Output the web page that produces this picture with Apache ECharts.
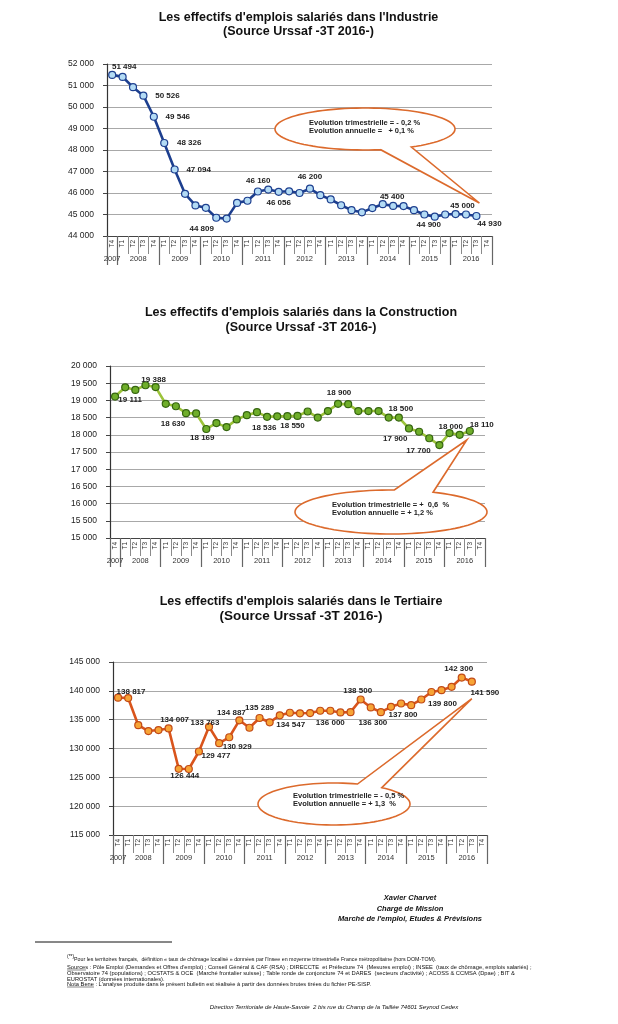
<!DOCTYPE html>
<html><head><meta charset="utf-8">
<script src="https://cdn.jsdelivr.net/npm/echarts@6/dist/echarts.min.js"></script>
<style>html,body{margin:0;padding:0;background:#fff}#c{width:618px;height:1024px}</style>
</head><body><div id="c"></div>
<script>
// ---------------- DATA ----------------
const CATEGORIES = ['2007-T4',
  '2008-T1','2008-T2','2008-T3','2008-T4','2009-T1','2009-T2','2009-T3','2009-T4',
  '2010-T1','2010-T2','2010-T3','2010-T4','2011-T1','2011-T2','2011-T3','2011-T4',
  '2012-T1','2012-T2','2012-T3','2012-T4','2013-T1','2013-T2','2013-T3','2013-T4',
  '2014-T1','2014-T2','2014-T3','2014-T4','2015-T1','2015-T2','2015-T3','2015-T4',
  '2016-T1','2016-T2','2016-T3','2016-T4'];
const YEARS = ['2007','2008','2009','2010','2011','2012','2013','2014','2015','2016'];

const industrie = [51494,51400,50920,50526,49546,48326,47094,45960,45420,45310,44850,44809,
  45540,45640,46070,46160,46056,46080,46000,46200,45900,45700,45430,45200,45100,45300,45480,
  45400,45390,45200,45000,44900,45000,45020,45000,44930];
const construction = [19111,19380,19305,19440,19388,18900,18830,18630,18620,18169,18340,18224,
  18446,18571,18658,18523,18536,18540,18550,18678,18500,18690,18900,18890,18690,18690,18690,
  18500,18500,18185,18089,17900,17700,18050,18000,18110];
const tertiaire = [138817,138750,134040,133022,133195,133483,126480,126444,129477,133763,130929,131950,
  134887,133600,135289,134547,135750,136200,136100,136150,136550,136550,136250,136300,138500,137116,
  136300,137232,137800,137520,138500,139800,140115,140692,142300,141590];

const industrieLabels = {0:'51 494',3:'50 526',4:'49 546',5:'48 326',6:'47 094',11:'44 809',15:'46 160',
  16:'46 056',19:'46 200',27:'45 400',31:'44 900',33:'45 000',35:'44 930'};
const constructionLabels = {0:'19 111',4:'19 388',7:'18 630',9:'18 169',16:'18 536',18:'18 550',22:'18 900',
  28:'18 500',31:'17 900',32:'17 700',34:'18 000',35:'18 110'};
const tertiaireLabels = {0:'138 817',5:'134 007',7:'126 444',8:'129 477',9:'133 763',10:'130 929',12:'134 887',
  14:'135 289',15:'134 547',21:'136 000',24:'138 500',26:'136 300',28:'137 800',31:'139 800',34:'142 300',35:'141 590'};

const TITLES = [
  ["Les effectifs d'emplois salariés dans l'Industrie", "(Source Urssaf -3T 2016-)"],
  ["Les effectifs d'emplois salariés dans la Construction", "(Source Urssaf -3T 2016-)"],
  ["Les effectifs d'emplois salariés dans le Tertiaire", "(Source Urssaf -3T 2016-)"]
];
const CALLOUT_TEXTS = [
  ['Evolution trimestrielle = - 0,2 %', 'Evolution annuelle =   + 0,1 %'],
  ['Evolution trimestrielle = +  0,6  %', 'Evolution annuelle = + 1,2 %'],
  ['Evolution trimestrielle = - 0,5 %', 'Evolution annuelle = + 1,3  %']
];
const SIGNATURE = ['Xavier Charvet', 'Chargé de Mission', "Marché de l'emploi, Etudes & Prévisions"];
const FOOTNOTES = [
  "Pour les territoires français,  définition « taux de chômage localisé » données par l'Insee en moyenne trimestrielle France métropolitaine (hors DOM-TOM).",
  "Sources : Pôle Emploi (Demandes et Offres d'emploi) ; Conseil Général & CAF (RSA) ; DIRECCTE  et Préfecture 74  (Mesures emploi) ; INSEE  (taux de chômage, emplois salariés) ;",
  "Observatoire 74 (populations) ; OCSTATS & OCE  (Marché frontalier suisse) ; Table ronde de conjoncture 74 et DARES  (secteurs d'activité) ; ACOSS & CCMSA (Dpae) ; BIT &",
  "EUROSTAT (données internationales).",
  "Nota Bene : L'analyse produite dans le présent bulletin est réalisée à partir des données brutes tirées du fichier PE-SISP."
];
const ADDRESS = 'Direction Territoriale de Haute-Savoie  2 bis rue du Champ de la Taillée 74601 Seynod Cedex';

// ---------------- STYLE / LAYOUT ----------------
const FONT = '"Liberation Sans", Arial, sans-serif';
const GRIDS = [
  {left:107, top:64, width:385, height:172},
  {left:110, top:366, width:375, height:172},
  {left:113, top:662, width:374, height:173}
];
const YSCALES = [
  {min:44000, max:52000, interval:1000},
  {min:15000, max:20000, interval:500},
  {min:115000, max:145000, interval:5000}
];
const COLORS = [
  {line:'#1d3f8f', fill:'#b3dbf5', border:'#1d3f8f'},
  {line:'#9cc33a', fill:'#6fae2a', border:'#35650f'},
  {line:'#d9541c', fill:'#f7a435', border:'#c24a16'}
];
const LABEL_OFFSETS = [
  {0:[12,-8],3:[24,0],4:[24,0],5:[25,0],6:[24,0],11:[-25,10],15:[-10,-9],16:[0,11],19:[0,-12],27:[-1,-9],31:[-6,8],33:[7,-8],35:[13,8]},
  {0:[15,3],4:[-2,-7],7:[-13,11],9:[-4,9],16:[-13,11],18:[-5,10],22:[1,-11],28:[2,-9],31:[-34,1],32:[-21,6],34:[-9,-8],35:[12,-6]},
  {0:[13,-6],5:[6,-9],7:[-4,7],8:[17,4],9:[-4,-4],10:[18,4],12:[-8,-8],14:[0,-10],15:[21,3],21:[0,12],24:[-3,-9],26:[-8,11],28:[2,11],31:[11,12],34:[-3,-9],35:[13,11]}
];
const TITLE_POS = [{x:298.5, y:[18,32], f2:12.5}, {x:301, y:[313,328], f2:12.5}, {x:301, y:[602,616], f2:13.5}];
const CALLOUTS = [
  {cx:365, cy:129, rx:90, ry:21, gap:[59,80], tipOffset:[3,-13], tx:309, ty:[123,131]},
  {cx:391, cy:512, rx:96, ry:22, gap:[-88,-64], tipOffset:[-3,9], tx:332, ty:[505,513]},
  {cx:334, cy:804, rx:76, ry:21, gap:[-72,-51], tipOffset:[0,17], tx:293, ty:[796,804]}
];

function fmt(n){ return String(n).replace(/\B(?=(\d{3})+(?!\d))/g,' '); }
const YEAR_AT = {};
YEARS.forEach((y,k)=>{ YEAR_AT[k===0 ? 0.5 : 3+4*(k-1)] = y; });

const series = [industrie, construction, tertiaire];
const labels = [industrieLabels, constructionLabels, tertiaireLabels];

const option = {animation:false, backgroundColor:'#fff', grid:[], xAxis:[], yAxis:[], series:[]};
GRIDS.forEach((g,i)=>{
  option.grid.push(Object.assign({containLabel:false}, g));
  option.xAxis.push({type:'category', gridIndex:i, position:'bottom', data:CATEGORIES, boundaryGap:true,
    axisLine:{show:true, lineStyle:{color:'#444', width:1}},
    axisTick:{show:true, interval:0, length:18, lineStyle:{color:'#8a8a8a', width:1}},
    axisLabel:{interval:0, rotate:90, margin:4, fontSize:6.5, color:'#333', fontFamily:FONT, formatter:v=>v.split('-')[1]},
    splitLine:{show:false}});
  option.xAxis.push({type:'category', gridIndex:i, position:'bottom', data:CATEGORIES, boundaryGap:true,
    axisLine:{show:false},
    axisTick:{show:true, interval:(k)=> k===0 || (k-1)%4===0, length:29, lineStyle:{color:'#666', width:1.2}},
    axisLabel:{show:false}, splitLine:{show:false}});
  option.xAxis.push({type:'value', gridIndex:i, position:'bottom', min:0, max:37, interval:0.5,
    axisLine:{show:false}, axisTick:{show:false}, splitLine:{show:false},
    axisLabel:{margin:19, fontSize:7.5, color:'#333', fontFamily:FONT, formatter:v=>YEAR_AT[v]||''}});
  option.yAxis.push(Object.assign({type:'value', gridIndex:i,
    axisLine:{show:true, lineStyle:{color:'#333', width:1.2}},
    axisTick:{show:true, length:4, lineStyle:{color:'#444'}},
    splitLine:{show:true, lineStyle:{color:'#a8a8a8', width:1}},
    axisLabel:{margin:13, fontSize:8.5, color:'#222', fontFamily:FONT, formatter:fmt}}, YSCALES[i]));
  const lab = labels[i], off = LABEL_OFFSETS[i], c = COLORS[i];
  option.series.push({type:'line', xAxisIndex:3*i, yAxisIndex:i, z:3,
    data: series[i].map((v,k)=> lab[k] ? {value:v, label:{show:true, formatter:lab[k], offset:off[k]||[0,-10]}} : v),
    symbol:'circle', symbolSize:7, showAllSymbol:true,
    lineStyle:{color:c.line, width:2.6},
    itemStyle:{color:c.fill, borderColor:c.border, borderWidth:1.2},
    label:{show:false, position:'inside', fontSize:8, fontWeight:'bold', color:'#222', fontFamily:FONT, textBorderWidth:0},
    emphasis:{disabled:true}});
});

const chart = echarts.init(document.getElementById('c'), null, {renderer:'canvas', width:618, height:1024});
chart.setOption(option);

function txt(text, x, y, font, align, color){
  return {type:'text', x:x, y:y, z:100, silent:true,
    style:{text:text, font:font, fill:color||'#111', align:align||'left', verticalAlign:'middle',
      textAlign:align||'left', textVerticalAlign:'middle'}};
}
const graphics = [];
TITLES.forEach((t,i)=>{
  graphics.push(txt(t[0], TITLE_POS[i].x, TITLE_POS[i].y[0], 'bold 12.5px '+FONT, 'center'));
  graphics.push(txt(t[1], TITLE_POS[i].x, TITLE_POS[i].y[1], 'bold '+TITLE_POS[i].f2+'px '+FONT, 'center'));
});
CALLOUTS.forEach((c,i)=>{
  const last = series[i].length-1;
  const p = chart.convertToPixel({xAxisIndex:3*i, yAxisIndex:i}, [last, series[i][last]]);
  const tip = [p[0]+c.tipOffset[0], p[1]+c.tipOffset[1]];
  const a1=c.gap[0]*Math.PI/180, a2=c.gap[1]*Math.PI/180, n=90, pts=[];
  for(let k=0;k<=n;k++){ const t=a2+(2*Math.PI-(a2-a1))*k/n; pts.push([c.cx+c.rx*Math.cos(t), c.cy+c.ry*Math.sin(t)]); }
  pts.push(tip);
  graphics.push({type:'polygon', z:90, silent:true, shape:{points:pts}, style:{fill:'#fff', stroke:'#dc6a2c', lineWidth:1.6}});
  graphics.push(txt(CALLOUT_TEXTS[i][0], c.tx, c.ty[0], 'bold 7.5px '+FONT, 'left', '#222'));
  graphics.push(txt(CALLOUT_TEXTS[i][1], c.tx, c.ty[1], 'bold 7.5px '+FONT, 'left', '#222'));
});
SIGNATURE.forEach((s,k)=>{
  graphics.push(txt(s, 410, [898,909,919][k], 'italic bold 7.5px '+FONT, 'center', '#111'));
});
graphics.push({type:'line', z:100, silent:true, shape:{x1:35,y1:942,x2:172,y2:942}, style:{stroke:'#111', lineWidth:1}});
graphics.push(txt('(**)', 67, 957, '5px '+FONT, 'left', '#111'));
const FN_X = [74,67,67,67,67], FN_Y = [960,967,973,979,984], FN_SIZE = [5.3,5.75,5.75,5.7,5.7];
FOOTNOTES.forEach((f,k)=>{ graphics.push(txt(f, FN_X[k], FN_Y[k], FN_SIZE[k]+'px '+FONT, 'left', '#111')); });
graphics.push({type:'line', z:100, silent:true, shape:{x1:67,y1:970,x2:86,y2:970}, style:{stroke:'#111', lineWidth:0.5}});
graphics.push({type:'line', z:100, silent:true, shape:{x1:67,y1:987,x2:94,y2:987}, style:{stroke:'#111', lineWidth:0.5}});
graphics.push(txt(ADDRESS, 334, 1007, 'italic 6px '+FONT, 'center', '#111'));
chart.setOption({graphic:graphics});
</script>
</body></html>
